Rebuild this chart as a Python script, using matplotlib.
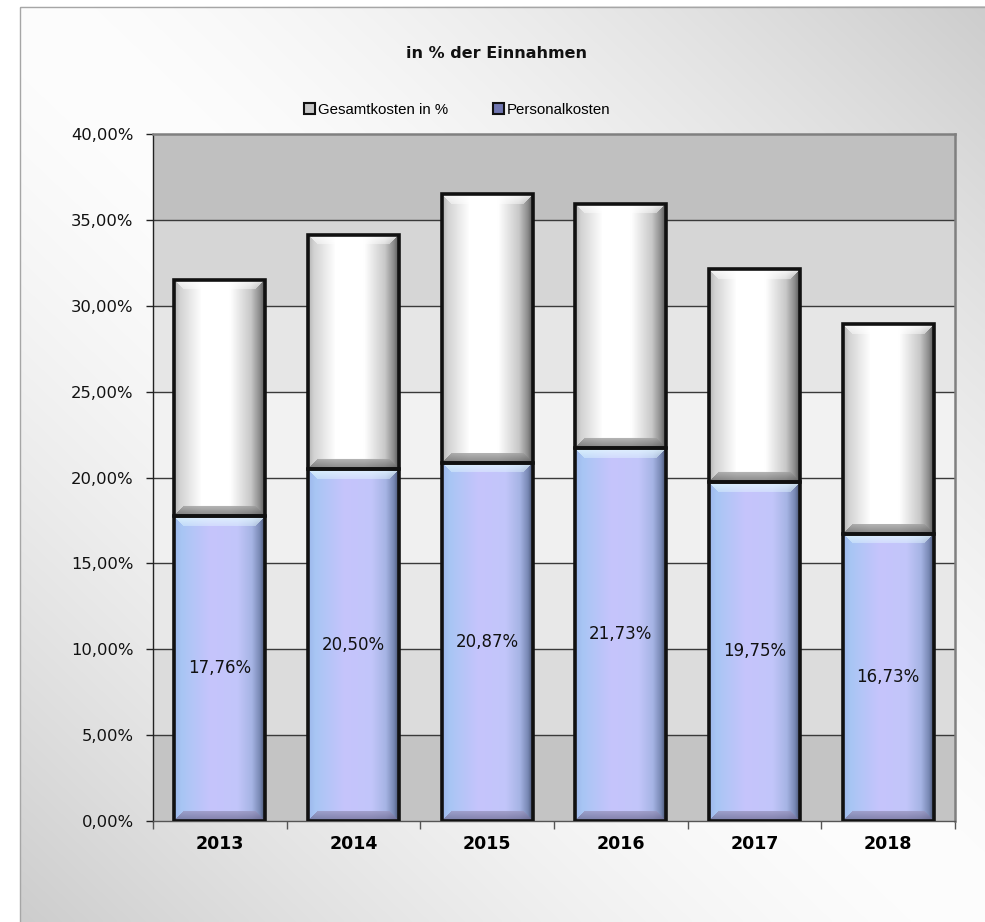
import numpy as np
import matplotlib
matplotlib.use("Agg")
import matplotlib.pyplot as plt
from matplotlib.patches import Rectangle

# ---------------- data ----------------
years = ["2013", "2014", "2015", "2016", "2017", "2018"]
personal = [17.76, 20.50, 20.87, 21.73, 19.75, 16.73]          # Personalkosten (%)
gesamt_rest = [13.77, 13.65, 15.67, 14.24, 12.38, 12.21]       # Gesamtkosten segment on top (%)
personal_labels = ["17,76%", "20,50%", "20,87%", "21,73%", "19,75%", "16,73%"]
yticks = [0, 5, 10, 15, 20, 25, 30, 35, 40]
ytick_labels = ["0,00%", "5,00%", "10,00%", "15,00%", "20,00%", "25,00%", "30,00%", "35,00%", "40,00%"]
title = "in % der Einnahmen"
series_names = ["Gesamtkosten in %", "Personalkosten"]

W, H, DPI = 985, 922, 100
fig = plt.figure(figsize=(W / DPI, H / DPI), dpi=DPI)
fig.patch.set_facecolor("white")

# ---------------- figure background (diagonal gradient) ----------------
bg = fig.add_axes([0, 0, 1, 1], zorder=-10)
bg.set_axis_off()
xx, yy = np.meshgrid(np.linspace(0, 1, 400), np.linspace(0, 1, 400))
d = np.abs(xx - yy)
g = np.maximum(253 - 48 * d ** 1.5, 205)
img = np.dstack([g, g, g]) / 255.0
x0f, y0f = 20 / W, 7 / H
bg.set_xlim(0, 1)
bg.set_ylim(1, 0)
bg.imshow(img, extent=(x0f, 1, 1, y0f), aspect="auto", interpolation="bilinear")
bg.add_patch(Rectangle((x0f, y0f), 1 - x0f + 0.01, 1, fill=False, edgecolor="#a6a6a6", lw=1))

# ---------------- main axes ----------------
L, R = 153 / W, 955 / W
B, T = 1 - 820.8 / H, 1 - 134.4 / H
ax = fig.add_axes([L, B, R - L, T - B])
ax.set_xlim(-0.5, len(years) - 0.5)
ax.set_ylim(0, 40)

# plot area banded gradient
bands = [0xc4, 0xdc, 0xe8, 0xf0, 0xf2, 0xe6, 0xd6, 0xc0]
for k, v in enumerate(bands):
    c = (v / 255,) * 3
    ax.axhspan(yticks[k], yticks[k + 1], color=c, zorder=0, lw=0)

for yv in yticks[1:-1]:
    ax.axhline(yv, color="#3a3a3a", lw=1.0, zorder=1)

for s in ["top", "right"]:
    ax.spines[s].set_color("#808080")
    ax.spines[s].set_linewidth(1.8)
ax.spines["left"].set_color("#222222")
ax.spines["left"].set_linewidth(1.0)
ax.spines["bottom"].set_color("#555555")
ax.spines["bottom"].set_linewidth(1.0)

x = np.arange(len(years))
bw = 0.68
bars_p = ax.bar(x, personal, width=bw, color="none", edgecolor="none", zorder=3)
bars_g = ax.bar(x, gesamt_rest, width=bw, bottom=personal, color="none", edgecolor="none", zorder=3)

# ---------------- bevel gradient images for bars ----------------
def hexrgb(h):
    h = h.lstrip("#")
    return np.array([int(h[i:i + 2], 16) for i in (0, 2, 4)]) / 255.0

def profile(wpx, stops, cols):
    t = np.linspace(0, 1, wpx)
    cols = np.array([hexrgb(c) for c in cols])
    return np.stack([np.interp(t, stops, cols[:, k]) for k in range(3)], axis=-1)

def make_img(wpx, hpx, stops, cols, top_col, bot_top, bot_bot, bev=10):
    prof = profile(wpx, stops, cols)
    im = np.tile(prof[None, :, :], (hpx, 1, 1))
    i = np.arange(hpx)[:, None]
    j = np.arange(wpx)[None, :]
    dt, db, dl, dr = i, hpx - 1 - i, j, wpx - 1 - j
    side = np.minimum(dl, dr)
    top_m = (dt < bev) & (dt <= side)
    bot_m = (db < bev) & (db <= side)
    tc = hexrgb(top_col)
    a = np.clip(1 - dt / bev, 0, 1)[..., None] * 0.45 + 0.4
    im = np.where(top_m[..., None], im * (1 - a) + tc * a, im)
    frac = np.clip(db / bev, 0, 1)[..., None]
    bc = hexrgb(bot_bot) * (1 - frac) + hexrgb(bot_top) * frac
    im = np.where(bot_m[..., None], bc * 0.75 + im * 0.25, im)
    return im

fig.canvas.draw()
white_stops = [0, 0.06, 0.3, 0.62, 0.85, 0.95, 1]
white_cols = ["#b4b4b4", "#d2d2d2", "#ffffff", "#ffffff", "#c8c8c8", "#8a8a8a", "#5a5a5a"]
blue_stops = [0, 0.08, 0.4, 0.7, 0.86, 0.95, 1]
blue_cols = ["#9cb8ec", "#a8c6f4", "#c6c4fc", "#c2c6fa", "#a6b4e4", "#7888b4", "#4a5676"]

def paint(patches, stops, cols, top_col, bot_top, bot_bot):
    for p in patches:
        bx, by, bwid, bh = p.get_x(), p.get_y(), p.get_width(), p.get_height()
        (px0, py0), (px1, py1) = ax.transData.transform([(bx, by), (bx + bwid, by + bh)])
        wpx, hpx = max(int(round(px1 - px0)), 4), max(int(round(py1 - py0)), 4)
        im = make_img(wpx, hpx, stops, cols, top_col, bot_top, bot_bot)
        ax.imshow(im, extent=(bx, bx + bwid, by, by + bh), origin="upper",
                  aspect="auto", zorder=3, interpolation="bilinear")
        ax.add_patch(Rectangle((bx, by), bwid, bh, fill=False, edgecolor="#111111",
                               lw=2.6, zorder=4))

paint(bars_p, blue_stops, blue_cols, "#e4f8ff", "#9a96c0", "#6a6890")
paint(bars_g, white_stops, white_cols, "#ffffff", "#a0a0a0", "#606060")
ax.set_xlim(-0.5, len(years) - 0.5)
ax.set_ylim(0, 40)
ax.set_aspect("auto")

# data labels (centered inside Personalkosten bars)
for p, lab in zip(bars_p, personal_labels):
    ax.text(p.get_x() + p.get_width() / 2, p.get_height() / 2, lab,
            ha="center", va="center", fontsize=12, color="#111111",
            family="DejaVu Sans", zorder=6)

# ticks
ax.set_yticks(yticks)
ax.set_yticklabels(ytick_labels, fontsize=11.8, family="DejaVu Sans", color="#111111")
ax.tick_params(axis="y", direction="out", length=5, width=1, color="#222222", pad=9)
ax.set_xticks(np.arange(len(years) + 1) - 0.5)
ax.set_xticklabels([])
ax.tick_params(axis="x", which="major", direction="out", length=6, width=1, color="#555555")
ax.set_xticks(x, minor=True)
ax.set_xticklabels(years, minor=True, fontsize=12.5, fontweight="bold", family="DejaVu Sans")
ax.tick_params(axis="x", which="minor", length=0, pad=10)

# title
fig.text(497 / W, 1 - 53 / H, title, ha="center", va="center", fontsize=11.5,
         fontweight="bold", family="DejaVu Sans", color="#111111")

# legend
h1 = Rectangle((0, 0), 1, 1, facecolor="#c8c8c8", edgecolor="#111111", lw=1.5)
h2 = Rectangle((0, 0), 1, 1, facecolor="#7076b0", edgecolor="#111111", lw=1.5)
fig.legend([h1, h2], series_names, loc="center", bbox_to_anchor=(457 / W, 1 - 110 / H),
           ncol=2, frameon=False, handlelength=0.75, handleheight=0.75,
           handletextpad=0.15, columnspacing=3.0,
           prop={"family": "Liberation Sans", "size": 10.8})

fig.savefig("out.png", dpi=DPI)
